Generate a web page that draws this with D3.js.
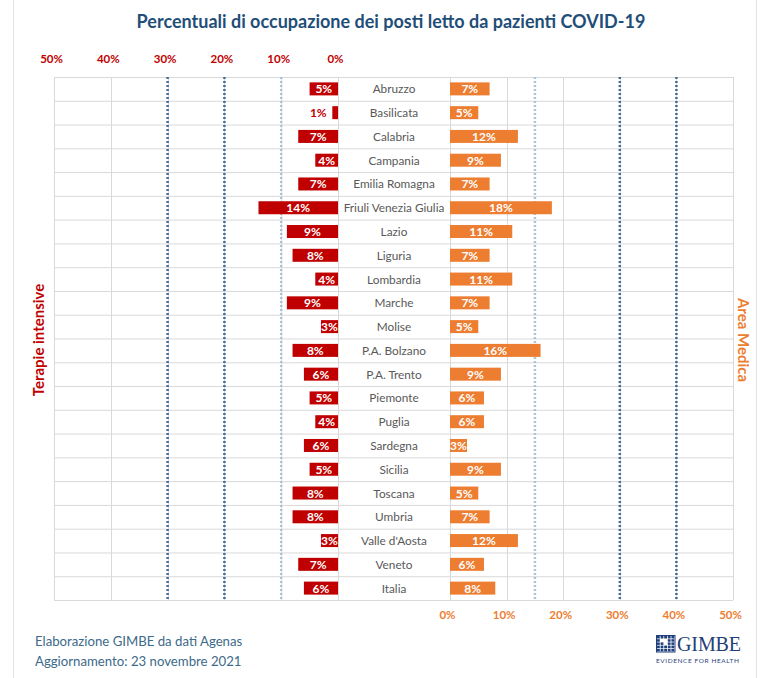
<!DOCTYPE html>
<meta charset="utf-8">
<style>
body { margin: 0; background: #fff; }
text { font-family: Lato, 'Open Sans', sans-serif; }
.grid line { stroke: #d9d9d9; stroke-width: 1; }
.region { fill: #595959; font-size: 11.8px; text-anchor: middle; }
.lbl { font-weight: bold; font-size: 12px; text-anchor: middle; }
</style>
<body>
<svg width="767" height="678"></svg>
<script src="https://d3js.org/d3.v7.min.js"></script>
<script>
// regions, top to bottom
var regions = ["Abruzzo", "Basilicata", "Calabria", "Campania", "Emilia Romagna",
  "Friuli Venezia Giulia", "Lazio", "Liguria", "Lombardia", "Marche", "Molise",
  "P.A. Bolzano", "P.A. Trento", "Piemonte", "Puglia", "Sardegna", "Sicilia",
  "Toscana", "Umbria", "Valle d'Aosta", "Veneto", "Italia"];

// % occupazione terapie intensive
var terapieIntensive = [5, 1, 7, 4, 7, 14, 9, 8, 4, 9, 3, 8, 6, 5, 4, 6, 5, 8, 8, 3, 7, 6];
// % occupazione area medica
var areaMedica = [7, 5, 12, 9, 7, 18, 11, 7, 11, 7, 5, 16, 9, 6, 6, 3, 9, 5, 7, 12, 6, 8];

var tickValues = [0, 10, 20, 30, 40, 50];
// soglie (linee tratteggiate)
var sogliaTI = [10, 20, 30];
var sogliaAM = [15, 30, 40];

var red = "#C00000", orange = "#ED7D31";

var svg = d3.select("svg");

// outer frame
svg.append("rect").attr("x", 13.5).attr("y", -1).attr("width", 743).attr("height", 680)
  .attr("fill", "none").attr("stroke", "#e3e3e3");

var xL = d3.scaleLinear().domain([0, 50]).range([338, 54]);
var xR = d3.scaleLinear().domain([0, 50]).range([450, 733]);
var y = d3.scaleBand().domain(regions).range([77, 600]);

var data = regions.map(function(r, i) {
  return {name: r, ti: terapieIntensive[i], am: areaMedica[i]};
});

// title
svg.append("text").attr("x", 391).attr("y", 28).attr("text-anchor", "middle")
  .style("font-size", "18px").style("font-weight", "bold").style("fill", "#1F4E79")
  .text("Percentuali di occupazione dei posti letto da pazienti COVID-19");

// grid
var grid = svg.append("g").attr("class", "grid");
var rowEdges = regions.map(function(r) { return y(r); }).concat([600]);
grid.selectAll(".h").data(rowEdges).enter().append("line")
  .attr("x1", 54).attr("x2", 733)
  .attr("y1", function(d) { return d + 0.5; }).attr("y2", function(d) { return d + 0.5; });
grid.selectAll(".vl").data(tickValues).enter().append("line")
  .attr("x1", function(d) { return Math.round(xL(d)) + 0.5; })
  .attr("x2", function(d) { return Math.round(xL(d)) + 0.5; })
  .attr("y1", 77).attr("y2", 600);
grid.selectAll(".vr").data(tickValues).enter().append("line")
  .attr("x1", function(d) { return Math.round(xR(d)) + 0.5; })
  .attr("x2", function(d) { return Math.round(xR(d)) + 0.5; })
  .attr("y1", 77).attr("y2", 600);

// dotted threshold lines
function dotted(scale, vals) {
  svg.append("g").selectAll("line").data(vals).enter().append("line")
    .attr("x1", function(d) { return scale(d); }).attr("x2", function(d) { return scale(d); })
    .attr("y1", 77).attr("y2", 600)
    .attr("stroke", function(d, i) { return i == 0 ? "#a9c4dc" : "#3f6e9c"; })
    .attr("stroke-width", 2.5)
    .attr("stroke-dasharray", "2,2");
}
dotted(xL, sogliaTI);
dotted(xR, sogliaAM);

var bh = 13;

// left bars
var gl = svg.append("g");
gl.selectAll("rect").data(data).enter().append("rect")
  .attr("x", function(d) { return xL(d.ti); })
  .attr("width", function(d) { return xL(0) - xL(d.ti); })
  .attr("y", function(d) { return y(d.name) + (y.bandwidth() - bh) / 2; })
  .attr("height", bh)
  .attr("fill", red);
gl.selectAll("text").data(data).enter().append("text")
  .attr("class", "lbl")
  .attr("x", function(d) { return d.ti < 2 ? xL(d.ti) - 14 : (xL(d.ti) + xL(0)) / 2; })
  .attr("y", function(d) { return y(d.name) + y.bandwidth() / 2 + 4.5; })
  .style("fill", function(d) { return d.ti < 2 ? red : "#fff"; })
  .text(function(d) { return d.ti + "%"; });

// right bars
var gr = svg.append("g");
gr.selectAll("rect").data(data).enter().append("rect")
  .attr("x", xR(0))
  .attr("width", function(d) { return xR(d.am) - xR(0); })
  .attr("y", function(d) { return y(d.name) + (y.bandwidth() - bh) / 2; })
  .attr("height", bh)
  .attr("fill", orange);
gr.selectAll("text").data(data).enter().append("text")
  .attr("class", "lbl")
  .attr("x", function(d) { return (xR(d.am) + xR(0)) / 2; })
  .attr("y", function(d) { return y(d.name) + y.bandwidth() / 2 + 4.5; })
  .style("fill", "#fff")
  .text(function(d) { return d.am + "%"; });

// region names
svg.append("g").selectAll("text").data(data).enter().append("text")
  .attr("class", "region")
  .attr("x", 394)
  .attr("y", function(d) { return y(d.name) + y.bandwidth() / 2 + 4.5; })
  .text(function(d) { return d.name; });

// axes
var axTop = svg.append("g").attr("transform", "translate(-3,66)")
  .call(d3.axisTop(xL).tickValues(tickValues).tickSize(0).tickFormat(function(d) { return d + "%"; }));
axTop.select(".domain").remove();
axTop.selectAll("text").style("fill", red).style("font-weight", "bold")
  .style("font-size", "11.5px").style("font-family", "Lato, sans-serif");

var axBot = svg.append("g").attr("transform", "translate(-3,608)")
  .call(d3.axisBottom(xR).tickValues(tickValues).tickSize(0).tickFormat(function(d) { return d + "%"; }));
axBot.select(".domain").remove();
axBot.selectAll("text").style("fill", orange).style("font-weight", "bold")
  .style("font-size", "11.5px").style("font-family", "Lato, sans-serif");

// side labels
svg.append("text").attr("transform", "translate(44,340) rotate(-90)")
  .attr("text-anchor", "middle").style("fill", red).style("font-weight", "bold")
  .style("font-size", "15px").text("Terapie intensive");
svg.append("text").attr("transform", "translate(738,340) rotate(90)")
  .attr("text-anchor", "middle").style("fill", orange).style("font-weight", "bold")
  .style("font-size", "15px").text("Area Medica");

// footer
svg.append("text").attr("x", 35).attr("y", 646).style("fill", "#3d6a8a").style("font-size", "13.2px")
  .text("Elaborazione GIMBE da dati Agenas");
svg.append("text").attr("x", 35).attr("y", 666).style("fill", "#3d6a8a").style("font-size", "13.2px")
  .text("Aggiornamento: 23 novembre 2021");

// logo
var logo = svg.append("g").attr("transform", "translate(657,636)");
var cells = d3.range(25);
logo.selectAll("rect").data(cells).enter().append("rect")
  .attr("x", function(d) { return (d % 5) * 3.6; })
  .attr("y", function(d) { return Math.floor(d / 5) * 3.2; })
  .attr("width", 2.8).attr("height", 2.5)
  .attr("fill", function(d) { return d == 6 || d == 7 || d == 12 ? "#fff" : "#1F3F7A"; });
logo.append("rect").attr("x", -0.5).attr("y", -0.5).attr("width", 18.5).attr("height", 16.5)
  .attr("fill", "none").attr("stroke", "#1F3F7A").attr("stroke-width", 1);
logo.append("text").attr("x", 20).attr("y", 15)
  .style("font-family", "'Liberation Serif', 'DejaVu Serif', serif").style("font-size", "20px")
  .style("fill", "#1F3F7A").attr("textLength", 64).text("GIMBE");
logo.append("text").attr("x", -1).attr("y", 27)
  .style("font-size", "6.5px").style("fill", "#1F3F7A").style("letter-spacing", "1px")
  .attr("textLength", 84).text("EVIDENCE FOR HEALTH");
</script>
</body>
